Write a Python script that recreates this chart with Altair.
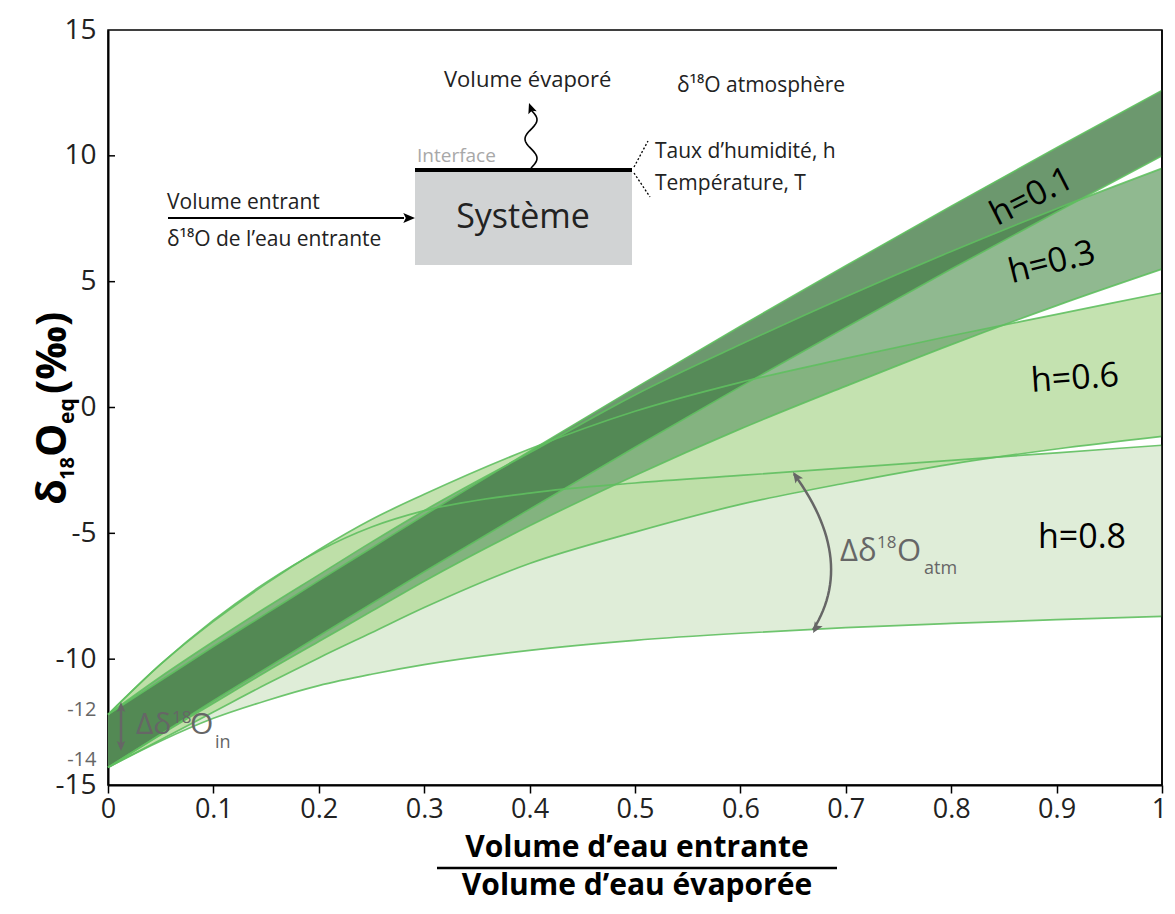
import altair as alt
import numpy as np
import pandas as pd

# ---------------- data ----------------
x_ratio = [0, 0.05, 0.1, 0.15, 0.2, 0.25, 0.3, 0.4, 0.5, 0.6, 0.7, 0.8, 0.9, 1.0]

h01_upper = [-12.2, -10.85, -9.5, -8.19, -6.88, -5.58, -4.28, -1.74, 0.77, 3.23, 5.63, 8.0, 10.32, 12.6]
h01_lower = [-14.3, -12.98, -11.65, -10.37, -9.08, -7.8, -6.53, -4.04, -1.58, 0.83, 3.18, 5.5, 7.77, 10.0]
h03_upper = [-12.2, -10.7, -9.3, -7.95, -6.65, -5.35, -4.1, -1.8, 0.5, 2.5, 4.4, 6.2, 7.9, 9.5]
h03_lower = [-14.3, -13.0, -11.75, -10.5, -9.3, -8.1, -6.9, -4.7, -2.7, -0.85, 0.85, 2.5, 4.05, 5.5]
h06_upper = [-12.2, -10.2, -8.5, -7.0, -5.65, -4.45, -3.45, -1.65, -0.15, 1.0, 1.95, 2.85, 3.7, 4.55]
h06_lower = [-14.3, -13.2, -12.1, -11.0, -9.95, -8.95, -7.95, -6.2, -4.95, -3.85, -3.0, -2.25, -1.65, -1.15]
h08_upper = [-12.2, -10.2, -8.45, -6.95, -5.7, -4.75, -4.1, -3.4, -3.0, -2.7, -2.4, -2.1, -1.8, -1.5]
h08_lower = [-14.3, -13.25, -12.35, -11.65, -11.05, -10.6, -10.22, -9.65, -9.25, -8.97, -8.75, -8.58, -8.43, -8.3]

band_names = ["h=0.8", "h=0.6", "h=0.3", "h=0.1"]
band_upper = {"h=0.8": h08_upper, "h=0.6": h06_upper, "h=0.3": h03_upper, "h=0.1": h01_upper}
band_lower = {"h=0.8": h08_lower, "h=0.6": h06_lower, "h=0.3": h03_lower, "h=0.1": h01_lower}
band_fill = {"h=0.8": "#d7e8ce", "h=0.6": "#b5db9c", "h=0.3": "#74a874", "h=0.1": "#477e4a"}

x_tick_values = [0, 0.1, 0.2, 0.3, 0.4, 0.5, 0.6, 0.7, 0.8, 0.9, 1]
y_tick_values = [-15, -14, -12, -10, -5, 0, 5, 10, 15]
inner_tick_values = [-10, -5, 0, 5, 10]

# ---------------- layout ----------------
W, H = 1054, 755          # plot area
X0, Y0 = 108, 30          # page position of plot origin
PAD = {"left": 100, "top": 22, "right": 4, "bottom": 118}

def dx(px):
    return (px - X0) / W

def dy(py):
    return 15 - (py - Y0) / H * 30

xs = alt.Scale(domain=[0, 1], nice=False, zero=False)
ys = alt.Scale(domain=[-15, 15], nice=False, zero=False)

xaxis = alt.Axis(values=x_tick_values, format="~g", labelFontSize=27, labelFont="Open Sans",
                 labelColor="#222222", tickSize=8, tickColor="black", tickWidth=1.5,
                 domainColor="black", domainWidth=2, labelPadding=3, grid=False,
                 labelOffset={"condition": {"test": "datum.value == 1", "value": -3}, "value": 0},
                 labelFlush=False, labelOverlap=False, title="")
yaxis = alt.Axis(values=y_tick_values, labelExpr="datum.value + ''", ticks=False,
                 labelPadding=12, labelFont="Open Sans",
                 labelFontSize={"condition": {"test": "datum.value == -12 || datum.value == -14", "value": 20}, "value": 28},
                 labelColor={"condition": {"test": "datum.value == -12 || datum.value == -14", "value": "#666666"}, "value": "#222222"},
                 domainColor="black", domainWidth=2, grid=False, labelOverlap=False, title="")

def ex(field):
    return alt.X(field, type="quantitative", scale=xs, axis=xaxis, title="")

def ey(field):
    return alt.Y(field, type="quantitative", scale=ys, axis=yaxis, title="")

one = pd.DataFrame({"a": [0]})

layers = []

# ---------------- bands ----------------
for b in band_names:
    d = pd.DataFrame({"x": x_ratio, "upper": band_upper[b], "lower": band_lower[b]})
    layers.append(
        alt.Chart(d).mark_area(color=band_fill[b], opacity=0.8, interpolate="monotone")
        .encode(x=ex("x"), y=ey("upper"), y2="lower")
    )

edge_rows = []
for b in band_names:
    for edge, vals in (("upper", band_upper[b]), ("lower", band_lower[b])):
        for xv, v in zip(x_ratio, vals):
            edge_rows.append({"x": xv, "v": v, "key": b + edge})
edges = pd.DataFrame(edge_rows)
layers.append(
    alt.Chart(edges).mark_line(color="#5fbf5f", strokeWidth=1.7, opacity=0.9, interpolate="monotone")
    .encode(x=ex("x"), y=ey("v"), detail="key:N")
)

# inward y ticks and right frame
layers.append(
    alt.Chart(pd.DataFrame({"v": inner_tick_values})).mark_rule(color="black", strokeWidth=1.5)
    .encode(x=alt.value(0), x2=alt.value(7), y=ey("v"))
)
layers.append(
    alt.Chart(one).mark_rule(color="black", strokeWidth=1.5)
    .encode(x=alt.value(W), y=alt.value(0), y2=alt.value(H))
)

# ---------------- helpers for annotations ----------------
def txt(text, x, y, size, color="#222222", weight="normal", align="left",
        baseline="middle", angle=0, font="Open Sans"):
    return alt.Chart(one).mark_text(text=text, fontSize=size, color=color, fontWeight=weight,
                                    align=align, baseline=baseline, angle=angle, font=font
                                    ).encode(x=alt.value(x - X0), y=alt.value(y - Y0))

def seg(x1, y1, x2, y2, color="black", width=2.0, dash=None):
    kw = dict(color=color, strokeWidth=width)
    if dash:
        kw["strokeDash"] = dash
    return alt.Chart(one).mark_rule(**kw).encode(
        x=alt.value(x1 - X0), y=alt.value(y1 - Y0), x2=alt.value(x2 - X0), y2=alt.value(y2 - Y0))

ARROW = "M0,0L1.2,2.8L0,2.2L-1.2,2.8Z"

def head(x, y, angle, color="black", size=64):
    return alt.Chart(one).mark_point(shape=ARROW, filled=True, size=size, angle=angle,
                                     color=color, opacity=1, strokeWidth=0
                                     ).encode(x=alt.value(x - X0), y=alt.value(y - Y0))

# ---------------- band labels ----------------
layers += [
    txt("h=0.1", 1032, 197, 34, color="black", align="center", angle=333),
    txt("h=0.3", 1052, 263, 34, color="black", align="center", angle=346),
    txt("h=0.6", 1075, 379, 34, color="black", align="center", angle=356),
    txt("h=0.8", 1082, 538, 34, color="black", align="center"),
]

# ---------------- Δδ18O_in annotation ----------------
GREY = "#666666"
layers += [
    seg(121, 708, 121, 746, color=GREY, width=2.5),
    head(121, 702, 0, color=GREY, size=50),
    head(121, 751, 180, color=GREY, size=50),
    txt("Δδ", 136, 734, 30, color=GREY, baseline="alphabetic"),
    txt("18", 172, 723, 17, color=GREY, baseline="alphabetic"),
    txt("O", 190, 734, 30, color=GREY, baseline="alphabetic"),
    txt("in", 215, 748, 18, color=GREY, baseline="alphabetic"),
]

# ---------------- Δδ18O_atm annotation (curved double arrow) ----------------
P0, C, P2 = np.array([794.0, 474.0]), np.array([857.0, 560.0]), np.array([813.0, 630.0])
t = np.linspace(0, 1, 30)
curve = np.outer((1 - t) ** 2, P0) + np.outer(2 * (1 - t) * t, C) + np.outer(t ** 2, P2)
curve_df = pd.DataFrame({"x": [dx(p) for p in curve[:, 0]], "y": [dy(p) for p in curve[:, 1]], "o": range(len(t))})
layers += [
    alt.Chart(curve_df).mark_line(color=GREY, strokeWidth=2.5).encode(x=ex("x"), y=ey("y"), order="o:Q"),
    head(793, 472, 325, color=GREY, size=60),
    head(813, 633, 212, color=GREY, size=60),
    txt("Δδ", 840, 561, 31, color=GREY, baseline="alphabetic"),
    txt("18", 877, 548, 17, color=GREY, baseline="alphabetic"),
    txt("O", 897, 561, 31, color=GREY, baseline="alphabetic"),
    txt("atm", 924, 574, 18, color=GREY, baseline="alphabetic"),
]

# ---------------- schematic ----------------
wy = np.linspace(168, 110, 40)
wx = 531 + 6 * np.sin(np.linspace(0, 3 * np.pi, 40))
wave_df = pd.DataFrame({"x": [dx(p) for p in wx], "y": [dy(p) for p in wy], "o": range(40)})

SF = 21
layers += [
    alt.Chart(one).mark_rect(color="#d1d3d4").encode(
        x=alt.value(415 - X0), x2=alt.value(632 - X0), y=alt.value(171 - Y0), y2=alt.value(265 - Y0)),
    seg(415, 170, 632, 170, width=4),
    txt("Interface", 417, 156, 19, color="#a8a8a8"),
    txt("Système", 523, 218, 34, color="#222222", align="center"),
    seg(168, 218, 404, 218, width=2),
    head(415, 218, 90, size=70),
    txt("Volume entrant", 167, 203, SF),
    txt("δ¹⁸O de l’eau entrante", 167, 240, SF),
    alt.Chart(wave_df).mark_line(color="black", strokeWidth=1.6).encode(x=ex("x"), y=ey("y"), order="o:Q"),
    head(529, 103, 340, size=55),
    txt("Volume évaporé", 444, 80, SF + 1),
    txt("δ¹⁸O atmosphère", 677, 86, SF),
    seg(634, 167, 648, 141, width=1.3, dash=[2, 2]),
    seg(634, 173, 650, 197, width=1.3, dash=[2, 2]),
    txt("Taux d’humidité, h", 655, 152, SF),
    txt("Température, T", 655, 184, SF),
]

# ---------------- axis titles ----------------
layers += [
    txt("δ", 66, 505, 42, color="black", weight="bold", baseline="alphabetic", angle=270),
    txt("18", 74, 480, 20, color="black", weight="bold", baseline="alphabetic", angle=270),
    txt("O", 66, 457, 42, color="black", weight="bold", baseline="alphabetic", angle=270),
    txt("eq", 74, 424, 21, color="black", weight="bold", baseline="alphabetic", angle=270),
    txt("(‰)", 66, 394, 42, color="black", weight="bold", baseline="alphabetic", angle=270),
    txt("Volume d’eau entrante", 637, 857, 30, color="black", weight="bold", align="center", baseline="alphabetic"),
    seg(437, 868, 837, 868, width=2.5),
    txt("Volume d’eau évaporée", 637, 895, 30, color="black", weight="bold", align="center", baseline="alphabetic"),
]

chart = alt.layer(*layers).properties(
    width=W, height=H,
    autosize=alt.AutoSizeParams(type="none"),
    padding=PAD,
).configure_view(stroke="black", strokeWidth=1.5)

chart.save("out.html", embed_options={"renderer": "svg", "actions": False})
